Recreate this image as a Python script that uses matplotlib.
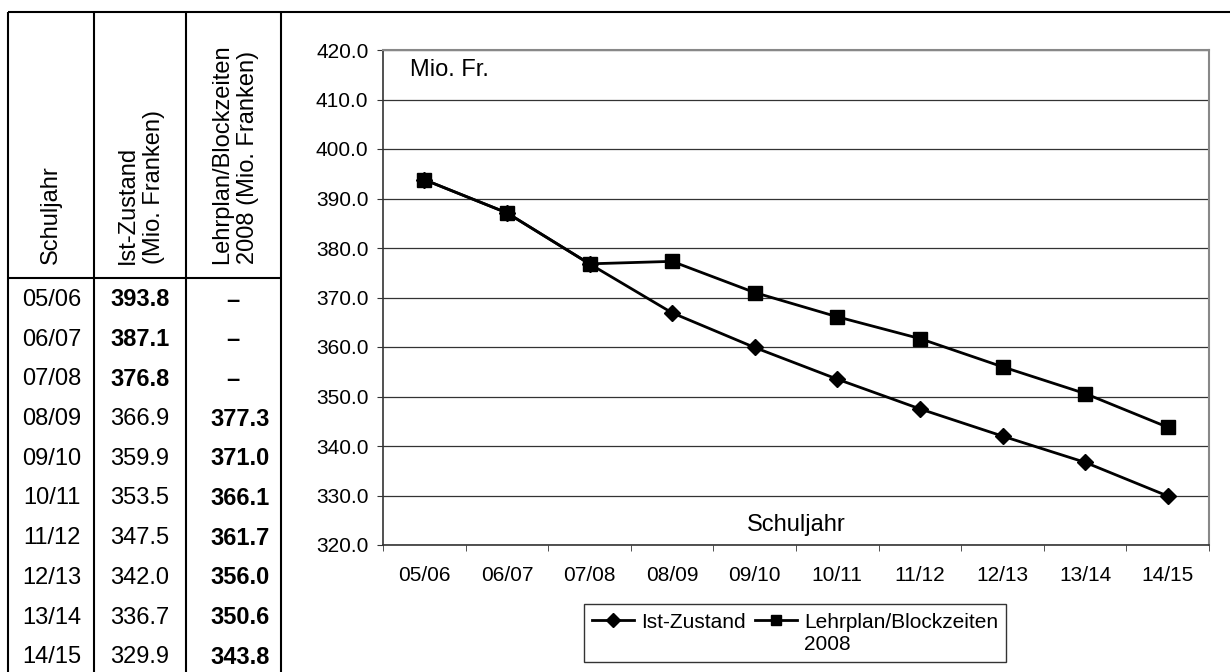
import matplotlib.pyplot as plt
from matplotlib.lines import Line2D

plt.rcParams['font.family'] = ['Liberation Sans', 'DejaVu Sans']

# Daten
schuljahre = ['05/06', '06/07', '07/08', '08/09', '09/10', '10/11', '11/12', '12/13', '13/14', '14/15']
ist_zustand = [393.8, 387.1, 376.8, 366.9, 359.9, 353.5, 347.5, 342.0, 336.7, 329.9]
lehrplan = [393.8, 387.1, 376.8, 377.3, 371.0, 366.1, 361.7, 356.0, 350.6, 343.8]
lehrplan_tabelle = [None, None, None, 377.3, 371.0, 366.1, 361.7, 356.0, 350.6, 343.8]
ist_fett = 3  # die ersten Werte fett
y_ticks = [320, 330, 340, 350, 360, 370, 380, 390, 400, 410, 420]

W, H = 1230, 672
fig = plt.figure(figsize=(W / 100, H / 100), dpi=100)


def fx(px):
    return px / W


def fy(py):
    return 1 - py / H


def linie(x0, y0, x1, y1, lw=1.5, color='black'):
    fig.add_artist(Line2D([fx(x0), fx(x1)], [fy(y0), fy(y1)], transform=fig.transFigure,
                          color=color, lw=lw, solid_capstyle='butt'))


# Rahmen und Tabelle
linie(8, 12, W, 12)
linie(8, 12, 8, H)
for xc in [94, 186, 281]:
    linie(xc, 12, xc, H)
linie(8, 278, 281, 278)

fs_tab = 17
fig.text(fx(51), fy(264), 'Schuljahr', rotation=90, ha='center', va='bottom', fontsize=fs_tab)
fig.text(fx(141), fy(264), 'Ist-Zustand\n(Mio. Franken)', rotation=90, ha='center', va='bottom',
         fontsize=fs_tab, multialignment='left', linespacing=1.2)
fig.text(fx(235), fy(264), 'Lehrplan/Blockzeiten\n2008 (Mio. Franken)', rotation=90, ha='center',
         va='bottom', fontsize=fs_tab, multialignment='left', linespacing=1.2)

for i, sj in enumerate(schuljahre):
    yc = fy(300 + 39.7 * i)
    fig.text(fx(52), yc, sj, ha='center', va='center', fontsize=fs_tab)
    fig.text(fx(140), yc, f'{ist_zustand[i]:.1f}', ha='center', va='center', fontsize=fs_tab,
             fontweight='bold' if i < ist_fett else 'normal')
    if lehrplan_tabelle[i] is None:
        fig.text(fx(233), yc, '–', ha='center', va='center', fontsize=fs_tab, fontweight='bold')
    else:
        fig.text(fx(270), yc, f'{lehrplan_tabelle[i]:.1f}', ha='right', va='center',
                 fontsize=fs_tab, fontweight='bold')

# Diagramm
ax = fig.add_axes([fx(383), fy(545), fx(1209) - fx(383), (545 - 50) / H])
x = list(range(len(schuljahre)))
ax.plot(x, ist_zustand, color='black', lw=2, marker='D', markersize=8.5, label='Ist-Zustand')
ax.plot(x, lehrplan, color='black', lw=2, marker='s', markersize=10,
        label='Lehrplan/Blockzeiten\n2008')

ax.set_xlim(-0.5, len(schuljahre) - 0.5)
ax.set_ylim(320, 420)
ax.set_yticks(y_ticks)
ax.set_yticklabels([f'{v:.1f}' for v in y_ticks], fontsize=15)
ax.set_xticks(x)
ax.set_xticklabels(schuljahre, fontsize=15)
ax.set_xticks([i - 0.5 for i in range(len(schuljahre) + 1)], minor=True)
ax.tick_params(axis='x', which='major', length=0, pad=15)
ax.tick_params(axis='x', which='minor', length=4, direction='out', color='#333333')
ax.tick_params(axis='y', length=4.5, direction='out', color='#333333', pad=6)
ax.grid(axis='y', color='#333333', lw=0.9)
ax.set_axisbelow(True)
for s in ['left', 'bottom']:
    ax.spines[s].set_color('#333333')
    ax.spines[s].set_linewidth(1.2)
for s in ['top', 'right']:
    ax.spines[s].set_color('#888888')
    ax.spines[s].set_linewidth(1.5)

fig.text(fx(410), fy(70), 'Mio. Fr.', ha='left', va='center', fontsize=17)
fig.text(fx(796), fy(525), 'Schuljahr', ha='center', va='center', fontsize=17)

leg = ax.legend(loc='center', bbox_to_anchor=(fx(795), fy(633)), bbox_transform=fig.transFigure,
                ncol=2, fontsize=15, frameon=True, fancybox=False, edgecolor='black',
                handlelength=2.0, handletextpad=0.35, columnspacing=0.45, borderpad=0.4,
                borderaxespad=0)
leg.get_frame().set_linewidth(1.0)
for h in leg.legend_handles:
    h.set_markersize(7)
# Symbole an der ersten Textzeile ausrichten
leg._legend_handle_box.align = 'top'
for col in leg._legend_handle_box.get_children():
    for row in col.get_children():
        row.align = 'top'

fig.savefig('out.png', dpi=100)
